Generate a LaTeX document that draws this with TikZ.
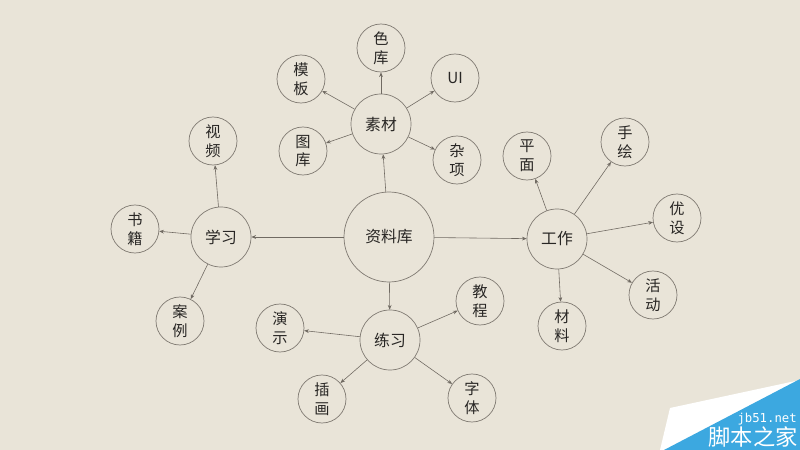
\documentclass[tikz,border=0pt]{standalone}
\usepackage{fontspec}
\setmainfont{Noto Sans CJK SC}
\newfontfamily\wmfont{DejaVu Sans Mono}
\usetikzlibrary{arrows.meta}
\definecolor{paper}{RGB}{233,228,216}
\definecolor{ring}{RGB}{128,122,114}
\definecolor{wire}{RGB}{112,106,98}
\definecolor{ink}{RGB}{40,38,36}
\definecolor{jbblue}{RGB}{60,168,224}
\begin{document}
\begin{tikzpicture}[x=0.03cm,y=-0.03cm,
	hub/.style={circle,draw=ring,line width=0.6pt,text=ink,inner sep=0pt,font=\fontsize{13.5}{15}\selectfont},
	big/.style={hub,minimum size=2.7cm},
	mid/.style={hub,minimum size=1.8cm},
	leaf/.style={hub,minimum size=1.44cm,align=center,font=\fontsize{13}{16}\selectfont},
	arr/.style={draw=wire,line width=0.5pt,-{Stealth[length=4pt,width=3.2pt]}}]
	\fill[paper] (0,0) rectangle (800,450);
	\useasboundingbox (0,0) rectangle (800,450);
	% centre
	\node[big] (zlk) at (389,237) {资料库};
	\node[mid] (sc) at (381,124) {素材};
	\node[mid] (xx) at (221,237) {学习};
	\node[mid] (lx) at (390,340) {练习};
	\node[mid] (gz) at (557,239) {工作};
	% 素材
	\node[leaf] (sk) at (381,48) {色\\库};
	\node[leaf] (mb) at (301,79) {模\\板};
	\node[leaf] (ui) at (455,78) {UI};
	\node[leaf] (tk) at (303,151) {图\\库};
	\node[leaf] (zx) at (457,160) {杂\\项};
	% 学习
	\node[leaf] (sp) at (213,141) {视\\频};
	\node[leaf] (sj) at (135,229) {书\\籍};
	\node[leaf] (al) at (180,321) {案\\例};
	% 练习
	\node[leaf] (ys) at (280,328) {演\\示};
	\node[leaf] (jc) at (480,301) {教\\程};
	\node[leaf] (ch) at (322,399) {插\\画};
	\node[leaf] (zt) at (472,398) {字\\体};
	% 工作
	\node[leaf] (pm) at (527,156) {平\\面};
	\node[leaf] (sh) at (625,142) {手\\绘};
	\node[leaf] (ysj) at (677,218) {优\\设};
	\node[leaf] (hd) at (653,295) {活\\动};
	\node[leaf] (cl) at (562,326) {材\\料};
	\foreach \a/\b in {zlk/sc,zlk/xx,zlk/lx,zlk/gz,
		sc/sk,sc/mb,sc/ui,sc/tk,sc/zx,
		xx/sp,xx/sj,xx/al,
		lx/ys,lx/jc,lx/ch,lx/zt,
		gz/pm,gz/sh,gz/ysj,gz/hd,gz/cl}
		\draw[arr] (\a) -- (\b);
	% watermark
	\fill[white] (670,408) -- (800,380) -- (800,450) -- (660,450) -- cycle;
	\fill[jbblue] (664,450) -- (800,379) -- (800,450) -- cycle;
	\node[anchor=south east,inner sep=0pt,text=white,font=\wmfont\fontsize{10.5}{12}\selectfont] (jbn) at (797,425) {jb51.net};
	\node[anchor=south east,inner sep=0pt,text=white,font=\fontsize{19}{20}\selectfont] (jbz) at (798,448) {脚本之家};
\end{tikzpicture}
\end{document}
